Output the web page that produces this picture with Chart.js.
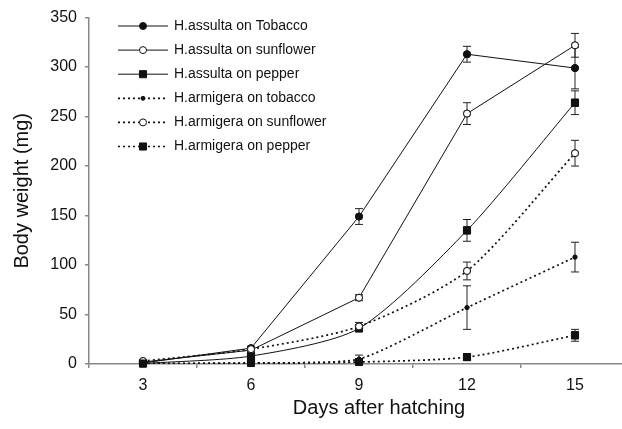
<!DOCTYPE html>
<html lang="en">
<head>
  <meta charset="UTF-8" />
  <title>Body weight after hatching</title>
  <script src="https://cdn.jsdelivr.net/npm/chart.js"></script>
  <style>
    html, body { margin: 0; padding: 0; background: #fff; overflow: hidden; }
    #wrap { width: 640px; height: 429px; }
  </style>
</head>
<body>
  <div id="wrap"><canvas id="chart"></canvas></div>

  <script>
    // days after hatching
    const days = ['3', '6', '9', '12', '15'];

    // body weight (mg)
    const assultaTobacco = [1, 16, 149, 313, 299];
    const assultaTobaccoErr = [0, 2, 8, 8, 21];
    const assultaSunflower = [2, 14, 67, 253, 322];
    const assultaSunflowerErr = [0, 2, 3, 11, 12];
    const assultaPepper = [0.5, 8, 36, 135, 264];
    const assultaPepperErr = [0, 1, 3, 11, 12];
    const armigeraTobacco = [0.3, 1, 5, 57, 108];
    const armigeraTobaccoErr = [0, 0, 4, 22, 15];
    const armigeraSunflower = [3, 15, 38, 94, 213];
    const armigeraSunflowerErr = [0, 2, 4, 9, 13];
    const armigeraPepper = [0.5, 1, 2, 7, 29];
    const armigeraPepperErr = [0, 0, 1, 1, 6];

    const yTicks = [0, 50, 100, 150, 200, 250, 300, 350];
    const xTitle = 'Days after hatching';

    Chart.defaults.font.family = "'Liberation Sans', Arial, sans-serif";
    Chart.defaults.color = '#111';

    function series(label, data, errors, style, dotted, tension) {
      return {
        label: label,
        data: data,
        errors: errors,
        borderColor: '#111',
        borderWidth: dotted ? 1.7 : 1,
        borderDash: dotted ? [2, 3] : [],
        tension: tension,
        pointStyle: style.shape,
        pointRadius: style.r,
        pointHoverRadius: style.r,
        pointBackgroundColor: style.fill,
        pointBorderColor: '#111',
        pointBorderWidth: 1
      };
    }

    const filledDot = { shape: 'circle', r: 3.5, fill: '#111' };
    const openDot = { shape: 'circle', r: 3.5, fill: '#fff' };
    const square = { shape: 'rect', r: 5, fill: '#111' };
    const smallDot = { shape: 'circle', r: 2, fill: '#111' };

    // error bars, markers redrawn on top
    const errorBars = {
      id: 'errorBars',
      afterDatasetsDraw(chart) {
        const { ctx, scales: { y } } = chart;
        ctx.save();
        ctx.strokeStyle = '#222';
        ctx.lineWidth = 1;
        chart.data.datasets.forEach((ds, i) => {
          const meta = chart.getDatasetMeta(i);
          meta.data.forEach((pt, j) => {
            const e = ds.errors[j];
            if (!e) return;
            const top = y.getPixelForValue(ds.data[j] + e);
            const bot = y.getPixelForValue(Math.max(0, ds.data[j] - e));
            ctx.beginPath();
            ctx.moveTo(pt.x, top); ctx.lineTo(pt.x, bot);
            ctx.moveTo(pt.x - 4, top); ctx.lineTo(pt.x + 4, top);
            ctx.moveTo(pt.x - 4, bot); ctx.lineTo(pt.x + 4, bot);
            ctx.stroke();
          });
        });
        ctx.restore();
        chart.data.datasets.forEach((ds, i) => {
          chart.getDatasetMeta(i).data.forEach(pt => pt.draw(ctx, chart.chartArea));
        });
      }
    };

    // legend inside the plot + x axis title
    const legendBox = {
      id: 'legendBox',
      afterDraw(chart) {
        const ctx = chart.ctx;
        chart.data.datasets.forEach((ds, i) => {
          const y = 26 + i * 24.1;
          ctx.save();
          ctx.strokeStyle = '#111';
          ctx.lineWidth = ds.borderWidth;
          ctx.setLineDash(ds.borderDash);
          ctx.beginPath();
          ctx.moveTo(118, y);
          ctx.lineTo(168, y);
          ctx.stroke();
          ctx.setLineDash([]);
          ctx.fillStyle = ds.pointBackgroundColor;
          ctx.lineWidth = 1;
          Chart.helpers.drawPoint(ctx, { pointStyle: ds.pointStyle, radius: ds.pointRadius, borderWidth: 1, rotation: 0 }, 143, y);
          ctx.fillStyle = '#111';
          ctx.font = "14px 'Liberation Sans', Arial, sans-serif";
          ctx.textBaseline = 'middle';
          ctx.fillText(ds.label, 174, y);
          ctx.restore();
        });
        ctx.save();
        ctx.fillStyle = '#111';
        ctx.font = "20px 'Liberation Sans', Arial, sans-serif";
        ctx.textAlign = 'center';
        ctx.textBaseline = 'middle';
        ctx.fillText(xTitle, 379, 408);
        ctx.restore();
      }
    };

    new Chart(document.getElementById('chart'), {
      type: 'line',
      data: {
        labels: days,
        datasets: [
          series('H.assulta on Tobacco', assultaTobacco, assultaTobaccoErr, filledDot, false, 0),
          series('H.assulta on sunflower', assultaSunflower, assultaSunflowerErr, openDot, false, 0),
          series('H.assulta on pepper', assultaPepper, assultaPepperErr, square, false, 0.25),
          series('H.armigera on tobacco', armigeraTobacco, armigeraTobaccoErr, smallDot, true, 0.2),
          series('H.armigera on sunflower', armigeraSunflower, armigeraSunflowerErr, openDot, true, 0.25),
          series('H.armigera on pepper', armigeraPepper, armigeraPepperErr, square, true, 0.25)
        ]
      },
      options: {
        responsive: true,
        maintainAspectRatio: false,
        animation: false,
        layout: { padding: { top: 17, right: 11, left: 0, bottom: 0 } },
        plugins: {
          legend: { display: false },
          tooltip: { enabled: false }
        },
        scales: {
          x: {
            type: 'category',
            offset: true,
            grid: { offset: true, drawOnChartArea: false, drawTicks: true, tickLength: 4, color: '#888', lineWidth: 1.5 },
            border: { color: '#888', width: 1.5 },
            ticks: { font: { size: 16 }, padding: 8, color: '#111' },
            afterFit(scale) { scale.height = 65; }
          },
          y: {
            min: 0,
            max: 350,
            afterBuildTicks(scale) { scale.ticks = yTicks.map(v => ({ value: v })); },
            grid: { drawOnChartArea: false, drawTicks: true, tickLength: 4, color: '#888', lineWidth: 1.5 },
            border: { color: '#888', width: 1.5 },
            ticks: { font: { size: 16 }, padding: 8, color: '#111' },
            title: { display: true, text: 'Body weight (mg)', font: { size: 20 }, padding: { top: 10 }, color: '#111' },
            afterFit(scale) { scale.width = 89; }
          }
        }
      },
      plugins: [errorBars, legendBox]
    });
  </script>
</body>
</html>
